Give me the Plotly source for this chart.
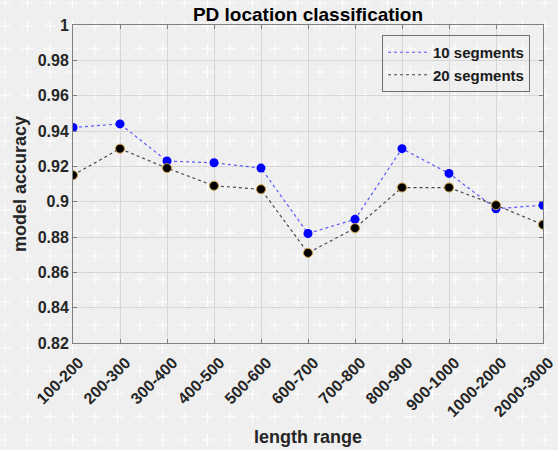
import plotly.graph_objects as go

# Accuracy of PD location classification per length range
length_ranges = ["100-200", "200-300", "300-400", "400-500", "500-600", "600-700",
                 "700-800", "800-900", "900-1000", "1000-2000", "2000-3000"]
acc_10_segments = [0.942, 0.944, 0.923, 0.922, 0.919, 0.882, 0.890, 0.930, 0.916, 0.896, 0.898]
acc_20_segments = [0.915, 0.930, 0.919, 0.909, 0.907, 0.871, 0.885, 0.908, 0.908, 0.898, 0.887]
y_tick_values = [0.82, 0.84, 0.86, 0.88, 0.9, 0.92, 0.94, 0.96, 0.98, 1.0]
y_tick_labels = ["0.82", "0.84", "0.86", "0.88", "0.9", "0.92", "0.94", "0.96", "0.98", "1"]

W, H = 558, 450
ML, MR, MT, MB = 73, 15, 25, 107
PW, PH = W - ML - MR, H - MT - MB
BG = "#efefef"
FONT = "Liberation Sans, Arial, sans-serif"

x_idx = list(range(len(length_ranges)))

fig = go.Figure()

# dotted connecting lines (these carry the legend entries)
fig.add_trace(go.Scatter(x=x_idx, y=acc_10_segments, mode="lines", name="<b>10 segments</b>",
                         line=dict(color="#5a5aff", width=1.2, dash="dot")))
fig.add_trace(go.Scatter(x=x_idx, y=acc_20_segments, mode="lines", name="<b>20 segments</b>",
                         line=dict(color="#4a4a4a", width=1.2, dash="dot")))
# point markers
fig.add_trace(go.Scatter(x=x_idx, y=acc_10_segments, mode="markers", showlegend=False,
                         marker=dict(color="#0000ff", size=9, line=dict(width=0))))
fig.add_trace(go.Scatter(x=x_idx, y=acc_20_segments, mode="markers", showlegend=False,
                         marker=dict(color="#000000", size=9,
                                     line=dict(color="#c89a3c", width=1))))

# tiled "+" texture over the whole canvas
def px(v):
    return (v - ML) / PW


def py(v):
    return (H - MB - v) / PH


segs = []
arm = 6
j = 0
while 3 + 23 * j <= H + arm:
    yp = 3 + 23 * j
    i = 0
    while 5 + 22.5 * i <= W + arm:
        xp = 5 + 22.5 * i
        segs.append(f"M{px(xp - arm):.4f},{py(yp):.4f}L{px(xp + arm):.4f},{py(yp):.4f}")
        segs.append(f"M{px(xp):.4f},{py(yp - arm):.4f}L{px(xp):.4f},{py(yp + arm):.4f}")
        i += 1
    j += 1

fig.add_shape(type="path", path="".join(segs), xref="paper", yref="paper",
              line=dict(color="rgba(255,255,255,0.95)", width=1), layer="below")

axis_common = dict(
    showline=True, linecolor="#7f7f7f", linewidth=1, mirror="ticks",
    ticks="inside", ticklen=4, tickcolor="#7f7f7f",
    showgrid=True, gridcolor="#d6d6d6", gridwidth=1, zeroline=False,
    automargin=False,
    tickfont=dict(family=FONT, size=16, color="#262626"),
)

fig.update_layout(
    width=W, height=H,
    margin=dict(l=ML, r=MR, t=MT, b=MB),
    paper_bgcolor=BG, plot_bgcolor="rgba(0,0,0,0)",
    font=dict(family=FONT, color="#262626"),
    title=dict(text="<b>PD location classification</b>", x=(ML + PW / 2) / W, xanchor="center",
               y=1 - 14 / H, yanchor="middle",
               font=dict(family=FONT, size=19, color="#000000")),
    xaxis=dict(axis_common, range=[0, len(length_ranges) - 1],
               tickvals=x_idx, ticktext=[f"<b>{s}</b>" for s in length_ranges],
               tickangle=-45, ticklabelshift=6, ticklabelstandoff=3,
               title=dict(text="<b>length range</b>", standoff=11,
                          font=dict(family=FONT, size=18, color="#262626"))),
    yaxis=dict(axis_common, range=[0.82, 1.0],
               tickvals=y_tick_values, ticktext=[f"<b>{s}</b>" for s in y_tick_labels],
               title=dict(text="<b>model accuracy</b>", standoff=6,
                          font=dict(family=FONT, size=18, color="#262626"))),
    legend=dict(x=(382 - ML) / PW, y=(H - MB - 35) / PH, xanchor="left", yanchor="top",
                bgcolor="rgba(0,0,0,0)", bordercolor="#6f6f6f", borderwidth=1,
                font=dict(family=FONT, size=15, color="#1a1a1a"),
                tracegroupgap=0, itemwidth=40),
    showlegend=True,
)

fig.write_html("out.html")
